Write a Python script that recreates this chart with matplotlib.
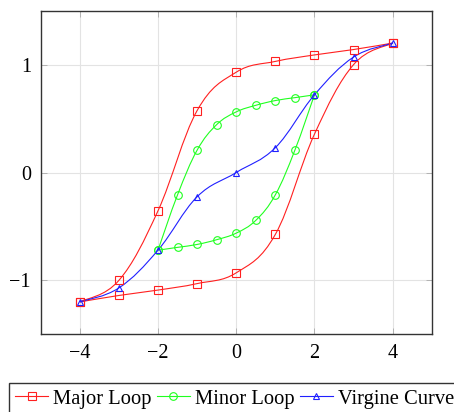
import matplotlib
matplotlib.use("Agg")
import matplotlib.pyplot as plt
from matplotlib.path import Path
from matplotlib.patches import PathPatch
from matplotlib.lines import Line2D

plt.rcParams['font.family'] = ['Liberation Serif', 'DejaVu Serif']

# Major loop (lower branch left->right, upper branch right->left)
major_x_up = [-4, -3, -2, -1, 0, 1, 2, 3, 4]
major_y_up = [-1.2, -1.14, -1.09, -1.03, -0.93, -0.574, 0.355, 1.0, 1.2]
major_x_down = [4, 3, 2, 1, 0, -1, -2, -3, -4]
major_y_down = [1.2, 1.14, 1.09, 1.03, 0.93, 0.574, -0.355, -1.0, -1.2]

# Minor loop
minor_x_up = [-2, -1.5, -1, -0.5, 0, 0.5, 1, 1.5, 2]
minor_y_up = [-0.72, -0.694, -0.667, -0.623, -0.562, -0.444, -0.207, 0.207, 0.72]
minor_x_down = [2, 1.5, 1, 0.5, 0, -0.5, -1, -1.5, -2]
minor_y_down = [0.72, 0.694, 0.667, 0.623, 0.562, 0.444, 0.207, -0.207, -0.72]

# Virgin curve
virgin_x = [-4, -3, -2, -1, 0, 1, 2, 3, 4]
virgin_y = [-1.2, -1.07, -0.72, -0.225, 0.0, 0.23, 0.72, 1.07, 1.2]

x_ticks = [-4, -2, 0, 2, 4]
y_ticks = [-1, 0, 1]


def smooth_path(xs, ys, tension=0.55):
    """Build a TikZ-like smooth bezier path through the points."""
    pts = list(zip(xs, ys))
    n = len(pts)
    verts = [pts[0]]
    codes = [Path.MOVETO]
    k = tension / 3.0
    for i in range(n - 1):
        p0 = pts[i - 1] if i > 0 else pts[i]
        p1 = pts[i]
        p2 = pts[i + 1]
        p3 = pts[i + 2] if i + 2 < n else pts[i + 1]
        c1 = (p1[0] + k * (p2[0] - p0[0]), p1[1] + k * (p2[1] - p0[1]))
        c2 = (p2[0] - k * (p3[0] - p1[0]), p2[1] - k * (p3[1] - p1[1]))
        verts += [c1, c2, p2]
        codes += [Path.CURVE4, Path.CURVE4, Path.CURVE4]
    return Path(verts, codes)


def draw_branch(ax, xs, ys, color, marker, ms):
    ax.add_patch(PathPatch(smooth_path(xs, ys), fill=False, edgecolor=color,
                           linewidth=0.8, zorder=3))
    ax.plot(xs, ys, linestyle='none', marker=marker, markersize=ms,
            markerfacecolor='none', markeredgecolor=color,
            markeredgewidth=0.8, zorder=4)


fig = plt.figure(figsize=(4.54, 4.12), dpi=100)
ax = fig.add_axes([0.0896, 0.1886, 0.8614, 0.7854])

red = '#ff2020'
green = '#20ff20'
blue = '#2020ff'

draw_branch(ax, major_x_up, major_y_up, red, 's', 5.5)
draw_branch(ax, major_x_down, major_y_down, red, 's', 5.5)
draw_branch(ax, minor_x_up, minor_y_up, green, 'o', 5.5)
draw_branch(ax, minor_x_down, minor_y_down, green, 'o', 5.5)
draw_branch(ax, virgin_x, virgin_y, blue, '^', 4.5)

ax.set_xlim(-5, 5)
ax.set_ylim(-1.5, 1.5)
ax.set_xticks(x_ticks)
ax.set_yticks(y_ticks)
ax.grid(True, color='#e3e3e3', linewidth=0.8)
ax.set_axisbelow(True)
ax.tick_params(direction='in', length=4, width=0.6, color='#aaaaaa',
               top=True, right=True, labelsize=14.5, pad=7,
               labelcolor='black')
for s in ax.spines.values():
    s.set_color('#333333')
    s.set_linewidth(1.0)

handles = [
    Line2D([], [], color=red, lw=0.8, marker='s', ms=5.5, mfc='none', mew=0.8),
    Line2D([], [], color=green, lw=0.8, marker='o', ms=5.5, mfc='none', mew=0.8),
    Line2D([], [], color=blue, lw=0.8, marker='^', ms=4.5, mfc='none', mew=0.8),
]
labels = ['Major Loop', 'Minor Loop', 'Virgine Curve']
leg = fig.legend(handles, labels, loc='upper left',
                 bbox_to_anchor=(9 / 454, 1 - 383 / 412), ncol=3,
                 fontsize=14.8, numpoints=1, handlelength=1.6,
                 handletextpad=0.25, columnspacing=0.25, borderpad=0.3,
                 borderaxespad=0, fancybox=False, framealpha=1)
leg.get_frame().set_edgecolor('#333333')
leg.get_frame().set_linewidth(1.0)

fig.savefig('out.png', dpi=100)
